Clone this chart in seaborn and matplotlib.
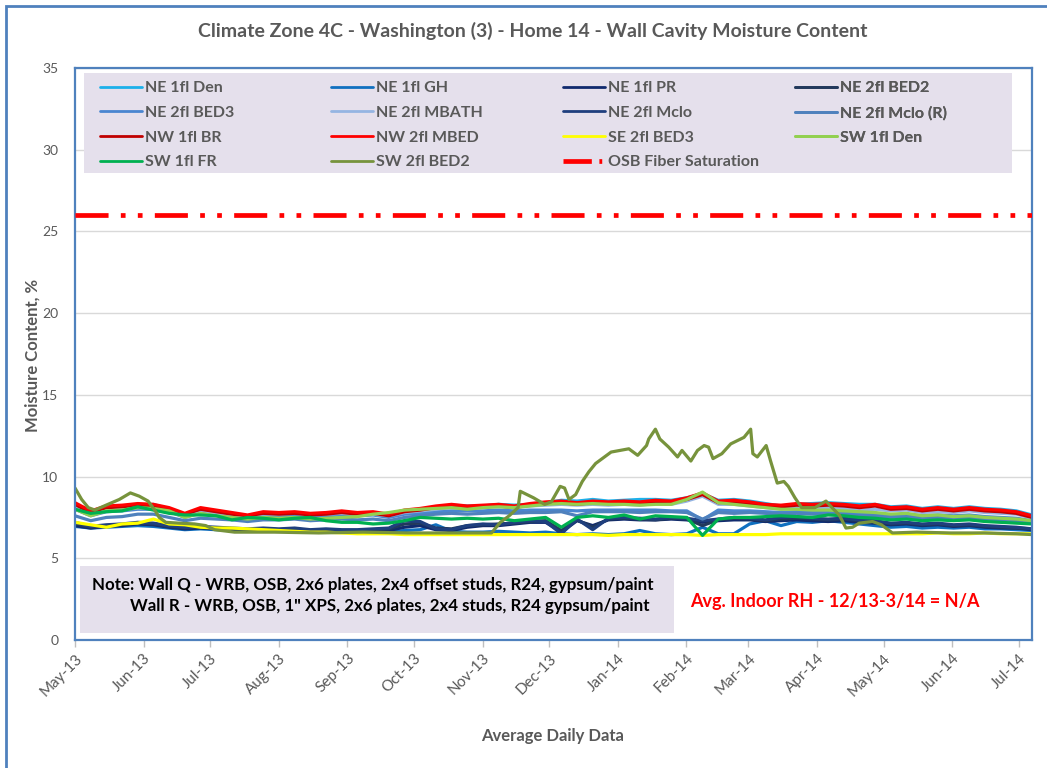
import numpy as np
import pandas as pd
import matplotlib
matplotlib.use("Agg")
import matplotlib.pyplot as plt
import matplotlib.dates as mdates
from matplotlib.patches import Rectangle
from matplotlib.lines import Line2D
import seaborn as sns

# ---------------- data ----------------
start_date = "2013-05-01"
end_date = "2014-07-07"
n_weeks = 62

ne_1fl_den = [8.2, 7.8, 8.1, 8.1, 8.2, 8.3, 8.0, 7.7, 8.0, 7.8, 7.75, 7.6, 7.8,
              7.75, 7.8, 7.7, 7.75, 7.85, 7.75, 7.8, 7.65, 7.9, 8.0, 8.15, 8.25, 8.2,
              8.2, 8.3, 8.25, 8.3, 8.4, 8.55, 8.5, 8.6, 8.5, 8.55, 8.6, 8.6, 8.55,
              8.7, 8.95, 8.55, 8.6, 8.5, 8.35, 8.2, 8.3, 8.35, 8.4, 8.35, 8.3, 8.3,
              8.15, 8.2, 8.05, 8.15, 8.05, 8.15, 8.05, 8.0, 7.9, 7.65]
ne_1fl_gh = [6.95, 6.85, 6.9, 6.95, 7.0, 6.95, 6.85, 6.75, 6.8, 6.75, 6.7, 6.65, 6.7,
             6.65, 6.7, 6.65, 6.6, 6.65, 6.6, 6.65, 6.6, 6.7, 6.75, 7.05, 6.65, 6.6,
             6.6, 6.65, 6.6, 6.55, 6.6, 6.5, 6.45, 6.5, 6.45, 6.5, 6.7, 6.5, 6.45,
             6.5, 6.9, 6.5, 6.5, 7.1, 7.3, 7.0, 7.25, 7.2, 7.3, 7.2, 7.1, 7.0,
             6.9, 6.95, 6.85, 6.9, 6.85, 6.9, 6.8, 6.8, 6.75, 6.7]
ne_1fl_pr = [7.0, 6.85, 6.95, 7.0, 7.1, 7.05, 6.9, 6.8, 6.85, 6.8, 6.75, 6.7, 6.75,
             6.7, 6.75, 6.7, 6.7, 6.65, 6.65, 6.7, 6.7, 6.9, 7.0, 6.75, 6.7, 6.9,
             7.0, 7.0, 7.1, 7.2, 7.2, 6.6, 7.3, 7.0, 7.35, 7.4, 7.35, 7.35, 7.4,
             7.35, 7.2, 7.3, 7.35, 7.35, 7.25, 7.3, 7.35, 7.3, 7.25, 7.3, 7.2, 7.15,
             7.05, 7.1, 7.0, 7.05, 6.95, 7.0, 6.9, 6.85, 6.85, 6.75]
ne_2fl_bed2 = [7.1, 6.9, 7.0, 7.05, 7.15, 7.1, 6.95, 6.85, 6.9, 6.85, 6.8, 6.75, 6.8,
               6.75, 6.8, 6.7, 6.75, 6.7, 6.7, 6.75, 6.8, 7.1, 7.15, 6.85, 6.8, 7.0,
               7.05, 7.1, 7.15, 7.25, 7.3, 6.7, 7.35, 6.9, 7.4, 7.45, 7.4, 7.35, 7.45,
               7.4, 7.0, 7.35, 7.45, 7.4, 7.3, 7.4, 7.45, 7.4, 7.35, 7.4, 7.3, 7.25,
               7.1, 7.15, 7.05, 7.1, 7.0, 7.05, 6.95, 6.9, 6.85, 6.8]
ne_2fl_bed3 = [8.0, 7.6, 7.85, 7.9, 8.0, 8.0, 7.85, 7.5, 7.8, 7.65, 7.6, 7.5, 7.6,
               7.6, 7.65, 7.55, 7.6, 7.65, 7.6, 7.65, 7.5, 7.7, 7.75, 7.85, 7.9, 7.9,
               7.9, 7.95, 7.9, 7.95, 7.95, 7.95, 7.9, 7.95, 7.95, 7.95, 7.95, 7.95, 7.9,
               7.9, 7.35, 7.95, 7.9, 7.9, 7.85, 7.8, 7.85, 7.8, 7.85, 7.8, 7.7, 7.75,
               7.65, 7.7, 7.6, 7.65, 7.6, 7.65, 7.55, 7.5, 7.45, 7.3]
ne_2fl_mbath = [8.1, 7.7, 8.0, 8.0, 8.1, 8.1, 7.95, 7.6, 7.95, 7.75, 7.7, 7.55, 7.7,
                7.7, 7.75, 7.65, 7.7, 7.75, 7.7, 7.7, 7.6, 7.8, 7.9, 8.0, 8.1, 8.05,
                8.1, 8.15, 8.1, 8.2, 8.25, 8.3, 8.25, 8.3, 8.25, 8.3, 8.25, 8.35, 8.3,
                8.5, 8.8, 8.3, 8.3, 8.2, 8.1, 8.0, 8.1, 8.05, 8.1, 8.05, 7.95, 8.0,
                7.9, 7.95, 7.8, 7.85, 7.8, 7.9, 7.8, 7.75, 7.7, 7.45]
ne_2fl_mclo = [7.2, 6.95, 7.05, 7.1, 7.2, 7.15, 7.0, 6.9, 6.95, 6.9, 6.85, 6.8, 6.85,
               6.8, 6.85, 6.75, 6.8, 6.75, 6.75, 6.8, 6.85, 7.3, 7.25, 6.8, 6.75, 7.0,
               7.1, 7.05, 7.2, 7.3, 7.25, 6.5, 7.4, 6.75, 7.45, 7.5, 7.45, 7.4, 7.5,
               7.45, 7.3, 7.4, 7.5, 7.45, 7.35, 7.5, 7.55, 7.45, 7.4, 7.45, 7.35, 7.3,
               7.15, 7.2, 7.1, 7.15, 7.05, 7.1, 7.0, 6.95, 6.9, 6.8]
ne_2fl_mclo_r = [7.6, 7.3, 7.5, 7.55, 7.7, 7.7, 7.5, 7.3, 7.45, 7.4, 7.35, 7.25, 7.35,
                 7.35, 7.4, 7.3, 7.35, 7.4, 7.35, 7.4, 7.3, 7.5, 7.6, 7.7, 7.75, 7.7,
                 7.75, 7.8, 7.75, 7.8, 7.8, 7.85, 7.6, 7.85, 7.85, 7.85, 7.8, 7.85, 7.85,
                 7.8, 7.4, 7.8, 7.75, 7.8, 7.75, 7.7, 7.75, 7.7, 7.7, 7.65, 7.6, 7.6,
                 7.5, 7.55, 7.45, 7.5, 7.45, 7.5, 7.4, 7.35, 7.3, 7.15]
nw_1fl_br = [8.3, 7.8, 8.1, 8.15, 8.25, 8.2, 8.0, 7.7, 8.0, 7.85, 7.7, 7.6, 7.75,
             7.7, 7.75, 7.65, 7.7, 7.8, 7.7, 7.75, 7.6, 7.85, 7.95, 8.1, 8.2, 8.1,
             8.15, 8.2, 8.1, 8.25, 8.35, 8.4, 8.3, 8.4, 8.35, 8.4, 8.35, 8.45, 8.4,
             8.6, 8.9, 8.4, 8.45, 8.35, 8.2, 8.15, 8.25, 8.2, 8.25, 8.2, 8.1, 8.2,
             8.0, 8.05, 7.9, 8.0, 7.9, 8.0, 7.9, 7.85, 7.75, 7.5]
nw_2fl_mbed = [8.4, 7.9, 8.2, 8.25, 8.35, 8.3, 8.1, 7.75, 8.1, 7.95, 7.8, 7.65, 7.85,
               7.8, 7.85, 7.75, 7.8, 7.9, 7.8, 7.85, 7.7, 7.95, 8.05, 8.2, 8.3, 8.2,
               8.25, 8.3, 8.2, 8.35, 8.45, 8.5, 8.4, 8.5, 8.45, 8.5, 8.45, 8.55, 8.5,
               8.7, 9.0, 8.5, 8.55, 8.45, 8.3, 8.25, 8.35, 8.3, 8.35, 8.3, 8.2, 8.3,
               8.1, 8.15, 8.0, 8.1, 8.0, 8.1, 8.0, 7.95, 7.85, 7.6]
se_2fl_bed3 = [7.2, 7.05, 6.9, 7.1, 7.15, 7.4, 7.1, 7.05, 6.9, 6.85, 6.85, 6.8, 6.75,
               6.7, 6.65, 6.6, 6.6, 6.55, 6.5, 6.5, 6.5, 6.45, 6.45, 6.45, 6.45, 6.45,
               6.45, 6.45, 6.45, 6.45, 6.45, 6.45, 6.45, 6.45, 6.4, 6.45, 6.45, 6.45, 6.45,
               6.45, 6.4, 6.45, 6.45, 6.45, 6.45, 6.5, 6.5, 6.5, 6.5, 6.5, 6.5, 6.5,
               6.5, 6.5, 6.5, 6.55, 6.5, 6.5, 6.55, 6.5, 6.5, 6.5]
sw_1fl_den = [8.0, 7.6, 7.9, 7.95, 8.1, 8.05, 7.9, 7.5, 7.75, 7.6, 7.5, 7.4, 7.5,
              7.45, 7.5, 7.4, 7.45, 7.5, 7.55, 7.7, 7.8, 7.95, 8.0, 8.05, 8.1, 8.0,
              8.1, 8.15, 8.1, 8.2, 8.3, 8.35, 8.3, 8.35, 8.3, 8.3, 8.25, 8.3, 8.3,
              8.6, 9.05, 8.4, 8.3, 8.2, 8.1, 8.0, 8.0, 7.95, 7.95, 7.9, 7.85, 7.8,
              7.7, 7.75, 7.6, 7.65, 7.55, 7.6, 7.5, 7.45, 7.4, 7.3]
sw_1fl_fr = [8.0, 7.75, 7.85, 7.9, 8.15, 7.95, 7.75, 7.65, 7.65, 7.6, 7.35, 7.5, 7.45,
             7.35, 7.45, 7.5, 7.3, 7.2, 7.2, 7.1, 7.15, 7.3, 7.5, 7.45, 7.4, 7.45,
             7.4, 7.45, 7.3, 7.4, 7.5, 6.9, 7.5, 7.6, 7.5, 7.65, 7.4, 7.6, 7.55,
             7.5, 6.4, 7.4, 7.5, 7.5, 7.55, 7.6, 7.55, 7.5, 7.65, 7.6, 7.5, 7.45,
             7.35, 7.4, 7.3, 7.35, 7.3, 7.35, 7.25, 7.2, 7.15, 7.1]

sw_2fl_bed2_days = [0, 3, 6, 9, 14, 20, 25, 29, 33, 36, 38, 41, 47, 54, 59, 63, 72,
                    90, 110, 130, 150, 170, 188, 192, 196, 200, 201, 204, 207, 212,
                    215, 219, 221, 223, 226, 229, 232, 235, 238, 242, 246, 250, 254,
                    258, 259, 262, 264, 268, 272, 274, 278, 281, 284, 286, 288, 292,
                    296, 299, 302, 305, 306, 308, 312, 314, 317, 320, 322, 325, 328,
                    334, 339, 341, 345, 348, 351, 354, 360, 364, 369, 380, 395, 410,
                    425, 432]
sw_2fl_bed2 = [9.3, 8.6, 8.1, 7.95, 8.25, 8.6, 9.0, 8.8, 8.5, 7.95, 7.5, 7.2, 7.15,
               7.1, 7.0, 6.75, 6.6, 6.6, 6.55, 6.6, 6.55, 6.55, 6.55, 7.2, 7.6, 8.1,
               9.1, 8.9, 8.7, 8.3, 8.45, 9.4, 9.3, 8.6, 8.9, 9.7, 10.3, 10.8, 11.1,
               11.5, 11.6, 11.7, 11.3, 11.9, 12.3, 12.9, 12.3, 11.8, 11.2, 11.6, 10.95,
               11.6, 11.9, 11.8, 11.1, 11.4, 12.0, 12.2, 12.4, 12.9, 11.4, 11.2, 11.9,
               10.95, 9.6, 9.7, 9.4, 8.7, 8.1, 8.1, 8.5, 8.2, 7.65, 6.85, 6.9, 7.15,
               7.25, 7.05, 6.55, 6.6, 6.55, 6.55, 6.5, 6.45]

osb_fiber_saturation = 26

series_labels = ["NE 1fl Den", "NE 1fl GH", "NE 1fl PR", "NE 2fl BED2",
                 "NE 2fl BED3", "NE 2fl MBATH", "NE 2fl Mclo", "NE 2fl Mclo (R)",
                 "NW 1fl BR", "NW 2fl MBED", "SE 2fl BED3", "SW 1fl Den",
                 "SW 1fl FR", "SW 2fl BED2"]
weekly_series = [ne_1fl_den, ne_1fl_gh, ne_1fl_pr, ne_2fl_bed2, ne_2fl_bed3,
                 ne_2fl_mbath, ne_2fl_mclo, ne_2fl_mclo_r, nw_1fl_br, nw_2fl_mbed,
                 se_2fl_bed3, sw_1fl_den, sw_1fl_fr]
colors = ["#1CB0EA", "#1070C0", "#102A6E", "#22395C", "#4A86D0", "#95B5E2",
          "#1F3F7E", "#4F81BD", "#C00000", "#FF0000", "#FFFF00", "#92D050",
          "#00B050", "#77933C"]

title = "Climate Zone 4C - Washington (3) - Home 14 - Wall Cavity Moisture Content"
note_line1 = "Note: Wall Q - WRB, OSB, 2x6 plates, 2x4 offset studs, R24, gypsum/paint"
note_line2 = "Wall R - WRB, OSB, 1\" XPS, 2x6 plates, 2x4 studs, R24 gypsum/paint"
rh_text = "Avg. Indoor RH - 12/13-3/14 = N/A"

# ---------------- figure ----------------
sns.set_style("white")
plt.rcParams["font.family"] = ["Lato", "DejaVu Sans"]
grey = "#595959"
frame_blue = "#4F81BD"

fig = plt.figure(figsize=(10.47, 7.68), dpi=100)
W, H = 1047, 768
AX_L, AX_R, AX_T, AX_B = 75, 1032, 68, 640
ax = fig.add_axes([AX_L / W, 1 - AX_B / H, (AX_R - AX_L) / W, (AX_B - AX_T) / H])

def ax_x(px):
    return (px - AX_L) / (AX_R - AX_L)

def ax_y(py):
    return (AX_B - py) / (AX_B - AX_T)

weekly_dates = pd.date_range(start_date, end_date, periods=n_weeks)
df = pd.DataFrame({"date": weekly_dates})
for lab, vals in zip(series_labels[:-1], weekly_series):
    df[lab] = vals

handles = []
for lab, col in zip(series_labels[:-1], colors[:-1]):
    sns.lineplot(data=df, x="date", y=lab, ax=ax, color=col, lw=2.3, legend=False)
    handles.append(Line2D([], [], color=col, lw=2.0, label=lab))

olive_dates = pd.Timestamp(start_date) + pd.to_timedelta(sw_2fl_bed2_days, unit="D")
sns.lineplot(x=olive_dates, y=sw_2fl_bed2, ax=ax, color=colors[-1], lw=2.3, legend=False)
handles.append(Line2D([], [], color=colors[-1], lw=2.0, label=series_labels[-1]))

osb_style = (0, (7, 2.6, 1.0, 2.6, 1.0, 2.6))
ax.axhline(osb_fiber_saturation, color="#FF0000", lw=3.4, linestyle=osb_style, zorder=5)
handles.append(Line2D([], [], color="#FF0000", lw=3.4, linestyle=(0, (6, 1.6, 0.6, 10)),
                      label="OSB Fiber Saturation"))

# axes styling
ax.set_ylim(0, 35)
ax.set_yticks(range(0, 36, 5))
ax.set_xlim(pd.Timestamp(start_date), pd.Timestamp(end_date))
ax.xaxis.set_major_locator(mdates.MonthLocator())
ax.xaxis.set_major_formatter(mdates.DateFormatter("%b-%y"))
ax.grid(axis="y", color="#D9D9D9", lw=1.0)
ax.grid(axis="x", visible=False)
ax.set_axisbelow(True)
for sp in ax.spines.values():
    sp.set_color(frame_blue)
    sp.set_linewidth(1.6)
ax.tick_params(axis="y", length=0, pad=12, labelsize=10, labelcolor=grey)
ax.tick_params(axis="x", length=5, width=1, color="#BFBFBF", direction="out",
               labelsize=11, labelcolor=grey, pad=3, bottom=True)
for t in ax.get_xticklabels():
    t.set_rotation(45)
    t.set_ha("right")
    t.set_rotation_mode("anchor")

ax.set_xlabel("")
ax.set_ylabel("")
fig.text(33 / W, 1 - 355 / H, "Moisture Content, %", rotation=90, ha="center",
         va="center", fontsize=12, fontweight="bold", color=grey)
fig.text(553 / W, 1 - 736 / H, "Average Daily Data", ha="center", va="center",
         fontsize=12, fontweight="bold", color=grey)
fig.text(533 / W, 1 - 31 / H, title, ha="center", va="center", fontsize=14,
         fontweight="bold", color=grey)

# legend: background box + four fixed-position columns (row-major like reference)
ax.add_patch(Rectangle((ax_x(84), ax_y(173)), ax_x(1012) - ax_x(84), ax_y(73) - ax_y(173),
                       transform=ax.transAxes, facecolor="#E5E0EC", edgecolor="none",
                       zorder=9, clip_on=False))
col_starts = [100, 331, 563, 795]
for c, xs in enumerate(col_starts):
    col_handles = handles[c::4]
    leg = ax.legend(handles=col_handles, loc="upper left",
                    bbox_to_anchor=(ax_x(xs), ax_y(81)), frameon=False,
                    fontsize=11.5, handlelength=2.6, handletextpad=0.2,
                    labelspacing=0.66, borderpad=0, borderaxespad=0)
    leg.set_zorder(10)
    for t in leg.get_texts():
        t.set_color(grey)
        t.set_fontweight("bold")
    ax.add_artist(leg)

# note box
fig.patches.append(Rectangle((80 / W, 1 - 633 / H), (674 - 80) / W, (633 - 566) / H,
                             transform=fig.transFigure, facecolor="#E5E0EC",
                             edgecolor="none", zorder=20))
fig.text(92 / W, 1 - 585 / H, note_line1, ha="left", va="center", fontsize=12.2,
         fontweight="bold", color="black", zorder=21)
fig.text(130 / W, 1 - 606 / H, note_line2, ha="left", va="center", fontsize=12.2,
         fontweight="bold", color="black", zorder=21)
fig.text(690 / W, 1 - 602 / H, rh_text, ha="left", va="center", fontsize=13,
         fontweight="bold", color="#FF0000", zorder=21)

# outer chart border
fig.patches.append(Rectangle((6 / W, -0.05), 1.1, 1 - 6 / H + 0.05,
                             transform=fig.transFigure, facecolor="none",
                             edgecolor=frame_blue, lw=2.0, zorder=30))

fig.savefig("out.png", dpi=100)
